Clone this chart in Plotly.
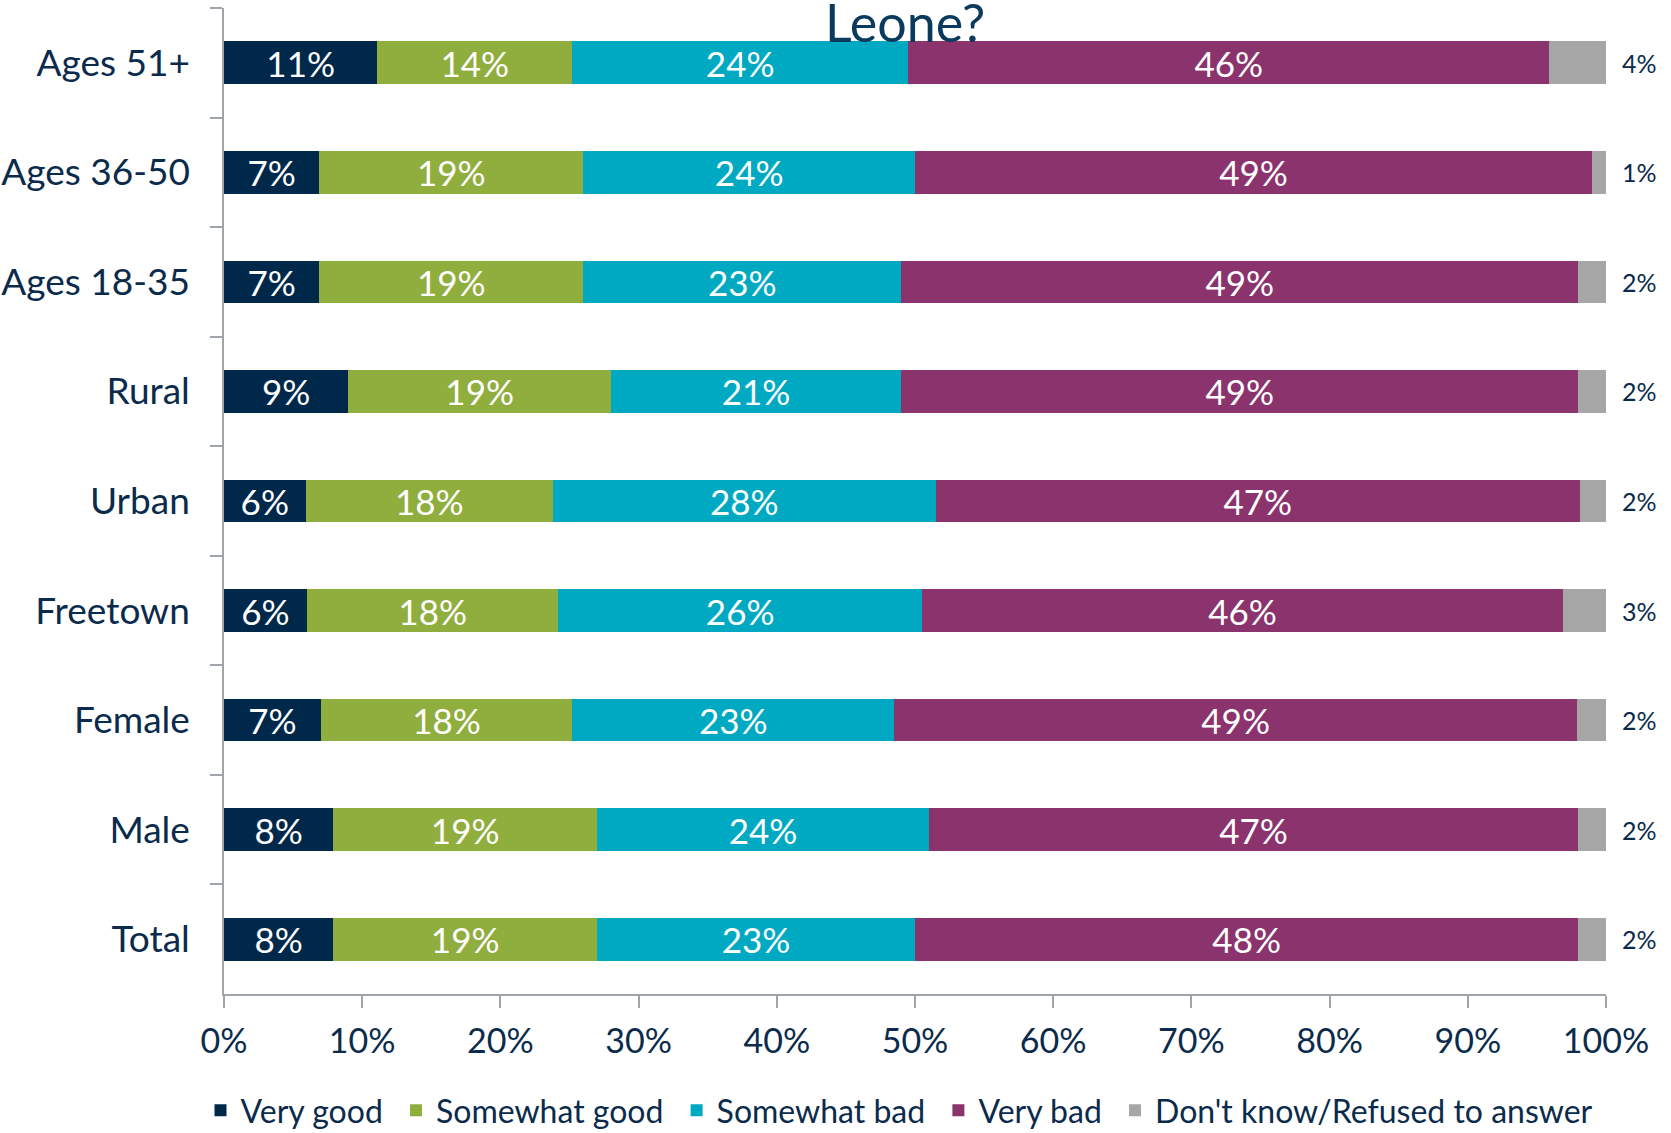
import plotly.graph_objects as go

categories = ["Ages 51+", "Ages 36-50", "Ages 18-35", "Rural", "Urban",
              "Freetown", "Female", "Male", "Total"]
series_names = ["Very good", "Somewhat good", "Somewhat bad", "Very bad",
                "Don't know/Refused to answer"]
very_good = [11.1, 6.9, 6.9, 9.0, 5.9, 6.0, 7.0, 7.9, 7.9]
somewhat_good = [14.1, 19.1, 19.1, 19.0, 17.9, 18.2, 18.2, 19.1, 19.1]
somewhat_bad = [24.3, 24.0, 23.0, 21.0, 27.7, 26.3, 23.3, 24.0, 23.0]
very_bad = [46.4, 49.0, 49.0, 49.0, 46.6, 46.4, 49.4, 47.0, 48.0]
dont_know = [4.1, 1.0, 2.0, 2.0, 1.9, 3.1, 2.1, 2.0, 2.0]
x_ticks = [0, 10, 20, 30, 40, 50, 60, 70, 80, 90, 100]
title_text = "Leone?"

colors = ["#00284a", "#8fae3e", "#00a9c2", "#8b336c", "#a6a6a6"]
NAVY = "#0b2b4c"
FONT = "Lato"
PAD = "\u00a0"

fig = go.Figure()
all_series = [very_good, somewhat_good, somewhat_bad, very_bad, dont_know]
for i, (name, vals) in enumerate(zip(series_names, all_series)):
    inside = i < 4
    fig.add_trace(go.Bar(
        y=categories, x=vals, name=name + (PAD if i < 4 else ""), orientation="h",
        marker=dict(color=colors[i], line=dict(width=0)),
        texttemplate="%{x:.0f}%" if inside else None,
        textposition="inside" if inside else "none",
        insidetextanchor="middle",
        constraintext="none",
        textfont=dict(family=FONT, size=35, color="white"),
        hoverinfo="skip",
    ))

# outside labels for the "Don't know" segment
for cat, v in zip(categories, dont_know):
    fig.add_annotation(x=100, y=cat, xref="x", yref="y", text=f"{v:.0f}%",
                       showarrow=False, xanchor="center", xshift=33,
                       font=dict(family=FONT, size=25, color=NAVY))

fig.add_annotation(x=0.493, y=0.9526, xref="paper", yref="paper", text=title_text,
                   showarrow=False, xanchor="center", yanchor="bottom",
                   font=dict(family=FONT, size=52, color="#0a3a5c"))

fig.update_layout(
    width=1671, height=1133,
    margin=dict(l=224, r=65, t=8, b=139, autoexpand=False),
    barmode="stack", bargap=0.61,
    plot_bgcolor="white", paper_bgcolor="white",
    font=dict(family=FONT, color=NAVY),
    uniformtext=dict(minsize=35, mode="show"),
    showlegend=True,
    legend=dict(orientation="h", xref="paper", x=-0.017, xanchor="left",
                yref="paper", y=-0.118, yanchor="middle",
                font=dict(family=FONT, size=32, color=NAVY), itemwidth=30,
                traceorder="normal", tracegroupgap=0),
)
fig.update_xaxes(range=[0, 100], tickvals=x_ticks,
                 ticktext=[f"{t}%" for t in x_ticks],
                 automargin=False,
                 showgrid=False, zeroline=False, showline=True,
                 linecolor="#a0a4ab", linewidth=1.5,
                 ticks="outside", ticklen=12, tickcolor="#a0a4ab", tickwidth=1.5,
                 tickfont=dict(family=FONT, size=34, color=NAVY),
                 ticklabelstandoff=4)
fig.update_yaxes(autorange="reversed", automargin=False,
                 showgrid=False, zeroline=False, showline=True,
                 linecolor="#a0a4ab", linewidth=1.5,
                 ticks="outside", ticklen=12, tickcolor="#a0a4ab", tickwidth=1.5,
                 tickson="boundaries",
                 tickfont=dict(family=FONT, size=37, color=NAVY),
                 ticklabelstandoff=25)

fig.write_html("out.html", config={"displayModeBar": False},
               post_script="document.body.style.margin='0';document.body.style.overflow='hidden';")
